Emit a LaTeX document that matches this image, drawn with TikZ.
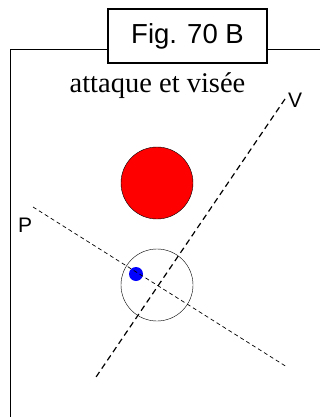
\documentclass[tikz,border=0pt]{standalone}
\usepackage{fontspec}
\setmainfont{Liberation Serif}
\newfontfamily\arialfont{Liberation Sans}
\usetikzlibrary{positioning}

\begin{document}
\begin{tikzpicture}[
  x=1pt,y=-1pt,
  titlebox/.style={draw,line width=1.2pt,fill=white,minimum width=159pt,minimum height=54pt,inner sep=0pt,font=\arialfont\fontsize{27.5}{30}\selectfont},
  lbl/.style={font=\arialfont\fontsize{21}{24}\selectfont,inner sep=0pt},
  visee/.style={dashed,line width=1.2pt,dash pattern=on 6pt off 4pt},
  plan/.style={line width=0.7pt,dash pattern=on 4pt off 3pt},
]
\useasboundingbox (0,0) rectangle (320,417);

% cadre
\draw[line width=1pt] (10,420) -- (10,50) -- (322,50);
\node[titlebox] (fig) at (187.5,36) {Fig. 70 B};
\node[font=\fontsize{28.5}{32}\selectfont,inner sep=0pt,anchor=base] (titre) at (157.5,93) {attaque et visée};

% billes
\node[circle,draw,fill=red,minimum size=72pt,inner sep=0pt] (rouge) at (157,183) {};
\node[circle,draw,minimum size=72pt,inner sep=0pt] (blanche) at (157,285) {};
\node[circle,fill=blue,minimum size=14pt,inner sep=0pt] (bleue) at (136,274) {};

% lignes
\coordinate (v1) at (285,99);
\coordinate (v2) at (94,380);
\coordinate (p1) at (33,207);
\coordinate (p2) at (287,367);
\draw[visee] (v1) -- (v2);
\draw[plan] (p1) -- (p2);
\node[lbl,anchor=south west] (V) at (288,108) {V};
\node[lbl,anchor=south west] (P) at (18,233) {P};
\end{tikzpicture}
\end{document}
